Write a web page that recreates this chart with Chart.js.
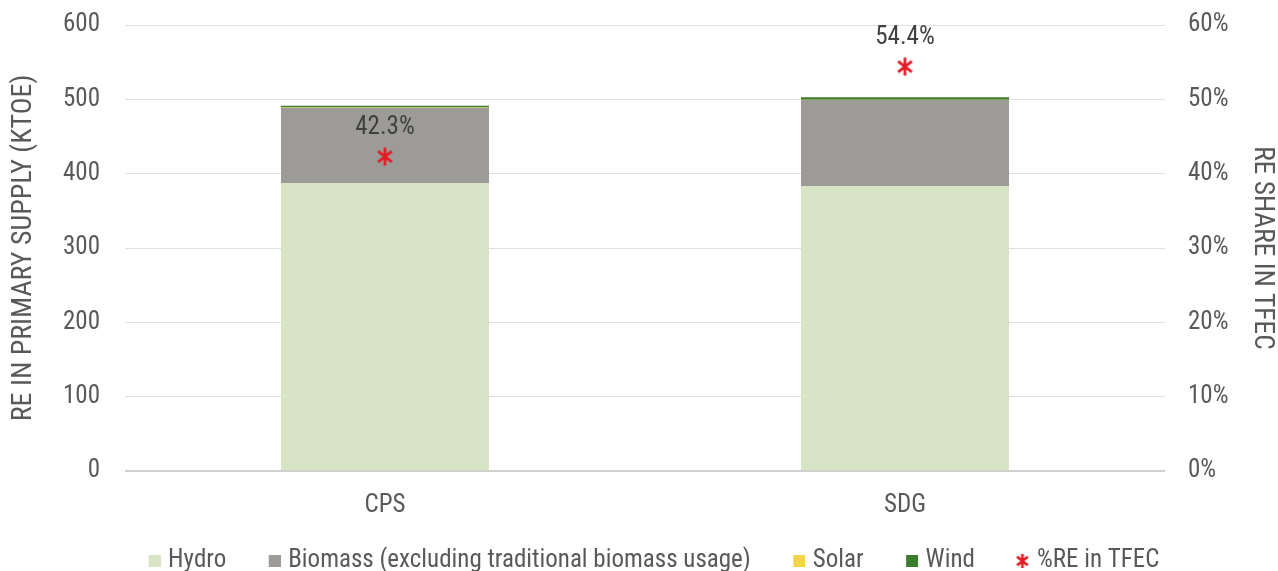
<!DOCTYPE html>
<html>
<head>
<meta charset="utf-8">
<script src="https://cdn.jsdelivr.net/npm/chart.js@4"></script>
<style>
html,body{margin:0;padding:0;background:#fff}
#wrap{width:1278px;height:571px}
</style>
</head>
<body>
<div id="wrap"><canvas id="reChart" width="1278" height="571"></canvas></div>
<script>
// DATA
const scenarios = ['CPS', 'SDG']
const hydro = [387.5, 383.5]
const biomass = [101, 115.5]
const solar = [0.4, 0.5]
const wind = [2.6, 3.4]
const reShare = [42.3, 54.4]

const leftTicks = [0, 100, 200, 300, 400, 500, 600]
const rightTicks = [0, 10, 20, 30, 40, 50, 60]

const FONT = "'Roboto Condensed', 'Liberation Sans Narrow', 'Arial Narrow', Roboto, sans-serif"
const GREY = '#595959'
const RED = '#e31b23'
const colours = ['#d7e4c5', '#9d9b97', '#f4d44a', '#3b7d2f']

// red asterisk, drawn into a canvas at offset ox,oy with size s
function drawStar(g, ox, oy, s){
g.strokeStyle = RED
g.lineWidth = 2.7
g.beginPath()
g.moveTo(ox + s/2, oy); g.lineTo(ox + s/2, oy + s)
g.moveTo(ox + s*0.12, oy + s*0.2); g.lineTo(ox + s*0.88, oy + s*0.8)
g.moveTo(ox + s*0.88, oy + s*0.2); g.lineTo(ox + s*0.12, oy + s*0.8)
g.stroke()
}

function makeStar(){
let c = document.createElement('canvas')
c.width = 19
c.height = 19
drawStar(c.getContext('2d'), 0.5, 0.5, 18)
return c
}
const star = makeStar()

// legend icons: box sits at the right end so the gap to the text is small
const LEG_W = 37
function legendIcon(i){
let c = document.createElement('canvas')
c.width = LEG_W + 10
c.height = 16
let g = c.getContext('2d')
if(i < 4){
g.fillStyle = colours[i]
g.fillRect(c.width - 12, 2, 12, 12)
}else{
drawStar(g, c.width - 14, 1, 14)
}
return c
}
const legendIcons = [0, 1, 2, 3, 4].map(legendIcon)

// labels above the star markers
const shareLabels = {
id: 'shareLabels',
afterDatasetsDraw(chart){
let ctx = chart.ctx
let meta = chart.getDatasetMeta(4)
ctx.save()
ctx.font = '25px ' + FONT
ctx.fillStyle = '#404040'
ctx.textAlign = 'center'
ctx.textBaseline = 'middle'
meta.data.forEach((pt, i) => {
ctx.fillText(reShare[i].toFixed(1) + '%', pt.x, pt.y - 29)
})
ctx.restore()
}
}

Chart.defaults.font.family = FONT
Chart.defaults.font.size = 25
Chart.defaults.color = GREY

new Chart(document.getElementById('reChart'), {
type: 'bar',
data: {
labels: scenarios,
datasets: [
{label: 'Hydro', data: hydro, backgroundColor: colours[0], order: 1},
{label: 'Biomass (excluding traditional biomass usage)', data: biomass, backgroundColor: colours[1], order: 1},
{label: 'Solar', data: solar, backgroundColor: colours[2], order: 1},
{label: 'Wind', data: wind, backgroundColor: colours[3], order: 1},
{label: '%RE in TFEC', type: 'line', data: reShare, yAxisID: 'y2', showLine: false,
pointStyle: star, pointRadius: 9, pointHoverRadius: 9, borderColor: RED, backgroundColor: RED, order: 0}
]
},
options: {
responsive: false,
animation: false,
events: [],
barPercentage: 0.4,
categoryPercentage: 1,
layout: {padding: {top: 25, left: 0, right: 0, bottom: 0}},
plugins: {
legend: {
position: 'bottom',
maxHeight: 35,
labels: {
usePointStyle: true,
pointStyleWidth: LEG_W,
boxHeight: 12,
padding: 12.5,
color: GREY,
font: {size: 25},
generateLabels: chart => {
let items = Chart.defaults.plugins.legend.labels.generateLabels(chart)
items.forEach(it => { it.pointStyle = legendIcons[it.datasetIndex] })
return items.sort((a, b) => a.datasetIndex - b.datasetIndex)
}
}
},
tooltip: {enabled: false}
},
scales: {
x: {
stacked: true,
afterFit: axis => { axis.height = 65 },
grid: {display: false, drawTicks: false},
border: {display: false},
ticks: {color: GREY, padding: 20}
},
y: {
stacked: true,
min: 0, max: 600,
afterBuildTicks: axis => { axis.ticks = leftTicks.map(v => ({value: v})) },
afterFit: axis => { axis.width = 125; axis.paddingTop = 0; axis.paddingBottom = 0 },
grid: {color: ctx => ctx.tick && ctx.tick.value === 0 ? '#d0d0d0' : '#e0e0e0', lineWidth: ctx => ctx.tick && ctx.tick.value === 0 ? 2 : 1, drawTicks: false},
border: {display: false},
ticks: {color: GREY, padding: 25},
title: {display: true, text: 'RE IN PRIMARY SUPPLY (KTOE)', color: GREY, font: {size: 28}, padding: {top: 7, bottom: 0}}
},
y2: {
position: 'right',
min: 0, max: 60,
afterBuildTicks: axis => { axis.ticks = rightTicks.map(v => ({value: v})) },
afterFit: axis => { axis.width = 113; axis.paddingTop = 0; axis.paddingBottom = 0 },
grid: {display: false, drawTicks: false},
border: {display: false},
ticks: {color: GREY, padding: 23, callback: v => v + '%'},
title: {display: true, text: 'RE SHARE IN TFEC', color: GREY, font: {size: 27.5}, padding: {top: 0, bottom: 0}}
}
}
},
plugins: [shareLabels]
})
</script>
</body>
</html>
